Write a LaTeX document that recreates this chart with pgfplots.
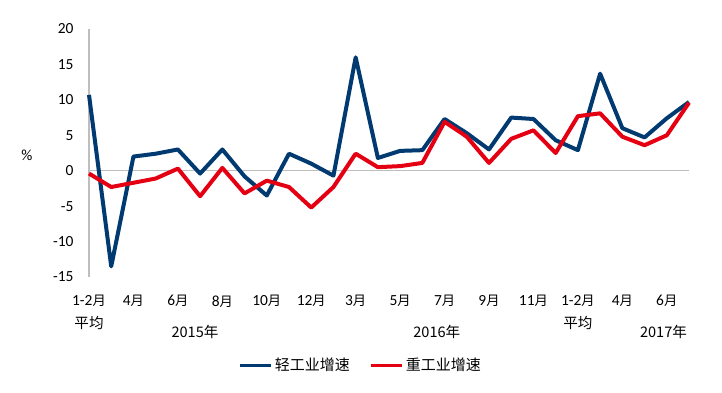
\documentclass[border=0pt]{standalone}
\usepackage{pgfplots}
\pgfplotsset{compat=1.18}
\usepackage{fontspec}
\setmainfont{Carlito}
\newfontfamily\cjk{Noto Sans CJK SC}[Scale=0.86]
\definecolor{lightblue}{RGB}{0,58,112}
\definecolor{heavyred}{RGB}{228,0,18}
\definecolor{axgray}{RGB}{190,190,190}
\begin{document}
\begin{tikzpicture}[x=1bp,y=1bp]
\path[use as bounding box] (0,0) rectangle (722,-392);
\begin{axis}[
  at={(89bp,-277bp)}, anchor=south west,
  scale only axis, width=600bp, height=248bp,
  xmin=0, xmax=27, ymin=-15, ymax=20,
  axis lines=left,
  axis line style={-},
  x axis line style={draw=none},
  y axis line style={axgray, line width=1.3bp},
  major tick length=0pt,
  ytick={-15,-10,...,20},
  xtick={0,2,...,26},
  xticklabels={{1-2\cjk 月},{4\cjk 月},{6\cjk 月},{8\cjk 月},{10\cjk 月},{12\cjk 月},{3\cjk 月},{5\cjk 月},{7\cjk 月},{9\cjk 月},{11\cjk 月},{1-2\cjk 月},{4\cjk 月},{6\cjk 月}},
  tick label style={font=\fontsize{15.5}{17}\selectfont},
  /pgf/number format/assume math mode=true,
  yticklabel style={anchor=east, xshift=-12bp},
  xticklabel style={anchor=north, yshift=-15bp},
  clip=false,
  legend columns=2,
  legend style={at={(axis description cs:0.453,-0.355)}, anchor=center, draw=none, fill=none,
    font=\fontsize{17.5}{19}\selectfont\cjk,
    /tikz/every even column/.append style={column sep=18bp}},
  legend image code/.code={\draw[#1, line width=3bp] (0bp,0bp) -- (31bp,0bp);},
]
\draw[axgray, line width=1.3bp] (axis cs:0,0) -- (axis cs:27,0);
\addplot[lightblue, line width=4bp, line join=round] coordinates {
(0,10.7) (1,-13.5) (2,2.0) (3,2.4) (4,3.0) (5,-0.4) (6,3.0) (7,-0.8) (8,-3.5) (9,2.4)
(10,1.0) (11,-0.7) (12,16.0) (13,1.8) (14,2.8) (15,2.9) (16,7.3) (17,5.3) (18,3.0) (19,7.5)
(20,7.3) (21,4.3) (22,2.9) (23,13.7) (24,6.0) (25,4.7) (26,7.4) (27,9.7)};
\addlegendentry{轻工业增速}
\addplot[heavyred, line width=4bp, line join=round] coordinates {
(0,-0.4) (1,-2.3) (2,-1.7) (3,-1.1) (4,0.3) (5,-3.6) (6,0.4) (7,-3.2) (8,-1.4) (9,-2.3)
(10,-5.2) (11,-2.3) (12,2.4) (13,0.5) (14,0.65) (15,1.1) (16,6.9) (17,4.8) (18,1.1) (19,4.5)
(20,5.7) (21,2.5) (22,7.7) (23,8.1) (24,4.8) (25,3.6) (26,5.0) (27,9.6)};
\addlegendentry{重工业增速}
\node[font=\fontsize{17}{19}\selectfont\cjk] at (axis cs:0,-15) [yshift=-46bp] {平均};
\node[font=\fontsize{17}{19}\selectfont\cjk] at (axis cs:22,-15) [yshift=-46bp] {平均};
\node[font=\fontsize{17}{19}\selectfont\cjk] at (axis cs:4.77,-15) [yshift=-55bp] {2015年};
\node[font=\fontsize{17}{19}\selectfont\cjk] at (axis cs:15.65,-15) [yshift=-55bp] {2016年};
\node[font=\fontsize{17}{19}\selectfont\cjk] at (axis cs:25.85,-15) [yshift=-55bp] {2017年};
\end{axis}
\node[font=\fontsize{15.5}{17}\selectfont] at (27bp,-155bp) {\%};
\end{tikzpicture}
\end{document}
